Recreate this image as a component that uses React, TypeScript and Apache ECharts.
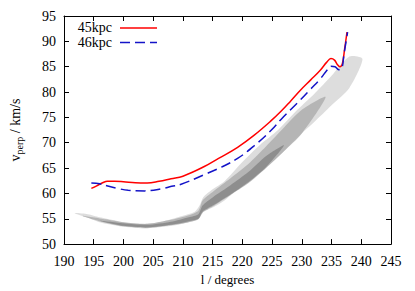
import React, { useEffect, useRef } from "react";
import * as echarts from "echarts";

const xTicks = [190, 245, 5];
const yTicks = [50, 95, 5];

const red45: [number, number][] = [
  [194.6, 61.0], [195.5, 61.5], [196.5, 62.1], [197.3, 62.4], [198.5, 62.4], [200, 62.3],
  [202, 62.1], [204, 62.05], [206, 62.4], [208, 62.9], [210, 63.4], [213.6, 65.3],
  [216, 66.9], [219.2, 69.1], [222, 71.5], [224.8, 74.3], [226.5, 76.2], [228.1, 78.2],
  [229.8, 80.4], [231.5, 82.4], [233.1, 84.3], [234.2, 85.9], [234.9, 86.6], [235.5, 86.3],
  [236.0, 85.4], [236.4, 85.0], [236.8, 85.5], [237.2, 88.5], [237.6, 91.8],
];

const blue46: [number, number][] = [
  [194.6, 62.05], [196, 61.9], [197.2, 61.5], [199, 61.0], [200.8, 60.6], [203.6, 60.5],
  [206.4, 60.9], [208.1, 61.4], [209.7, 61.8], [213.6, 63.7], [216.5, 65.2], [219.2, 66.9],
  [222, 69.4], [224.8, 72.4], [226.5, 74.6], [228.1, 76.5], [229.8, 78.5], [231.5, 80.6],
  [233.1, 82.6], [234.3, 84.4], [234.9, 85.1], [235.6, 85.0], [236.2, 84.4], [236.7, 84.6],
  [237.1, 87.5], [237.7, 91.8],
];

// particle cloud: outer (sparse) envelope
const cloudX = [191.8, 194, 196, 198, 200, 202, 204, 206, 208, 210, 212, 212.8, 213.4, 215, 217, 220, 223, 226, 229, 232, 235, 238, 240.2];
const cloudLow = [56.1, 55.2, 54.3, 53.8, 53.4, 53.2, 53.1, 53.3, 53.6, 54.0, 54.8, 55.2, 56.3, 57.2, 58.6, 61.6, 64.3, 67.2, 70.8, 74.0, 77.4, 80.8, 86.5];
const cloudHigh = [56.1, 55.9, 55.3, 54.8, 54.3, 54.0, 54.0, 54.3, 54.9, 55.6, 56.4, 57.6, 59.2, 60.8, 62.4, 66.2, 69.6, 72.5, 76.2, 79.5, 83.2, 87.0, 86.5];

// intermediate density
const midX = [193, 197, 200, 204, 208, 211, 212.6, 213.3, 215, 218, 221, 224, 227, 230, 234];
const midLow = [55.6, 54.2, 53.5, 53.2, 53.7, 54.3, 54.9, 56.2, 57.4, 59.7, 62.0, 65.0, 68.3, 71.8, 79.0];
const midHigh = [55.6, 54.9, 54.3, 54.0, 54.8, 55.7, 56.6, 58.6, 60.3, 63.0, 65.8, 69.3, 73.0, 76.5, 79.0];

// dense core
const coreX = [196, 200, 204, 208, 211, 212.6, 213.3, 215, 218, 221, 224, 227];
const coreLow = [54.6, 53.6, 53.3, 53.8, 54.5, 55.0, 56.4, 57.6, 59.8, 62.2, 65.2, 69.5];
const coreHigh = [54.6, 54.1, 53.8, 54.4, 55.3, 55.9, 57.6, 59.2, 61.6, 64.2, 67.4, 69.5];

const FONT = "'Liberation Serif', 'Times New Roman', serif";

function bandSeries(xs: number[], lo: number[], hi: number[], color: string, opacity: number) {
  return {
    type: "custom",
    silent: true,
    clip: true,
    data: [[xs[0], lo[0]]],
    renderItem: (params: any, api: any) => {
      if (params.dataIndex !== 0) return null;
      const pts: number[][] = [];
      for (let i = 0; i < xs.length; i++) pts.push(api.coord([xs[i], lo[i]]));
      for (let i = xs.length - 2; i >= 1; i--) pts.push(api.coord([xs[i], hi[i]]));
      return {
        type: "polygon",
        shape: { points: pts, smooth: 0.25 },
        style: { fill: color, opacity, stroke: null },
      };
    },
  };
}

export default function App() {
  const ref = useRef<HTMLDivElement>(null);
  useEffect(() => {
    if (!ref.current) return;
    const chart = echarts.init(ref.current, undefined, { renderer: "svg" });
    const axisCommon = {
      type: "value",
      splitLine: { show: false },
      axisLine: { show: true, lineStyle: { color: "#000", width: 1 } },
      axisTick: { show: true, inside: true, length: 5, lineStyle: { color: "#000" } },
    };
    chart.setOption({
      animation: false,
      backgroundColor: "#fff",
      grid: { left: 62, right: 24, top: 16, bottom: 42, containLabel: false },
      graphic: [
        { type: "text", right: 415 - 112, top: 20.5, style: { text: "45kpc", font: "14px " + FONT, fill: "#000" } },
        { type: "text", right: 415 - 112, top: 35, style: { text: "46kpc", font: "14px " + FONT, fill: "#000" } },
        { type: "line", shape: { x1: 120, y1: 28, x2: 157, y2: 28 }, style: { stroke: "#ff0000", lineWidth: 1.5 } },
        { type: "line", shape: { x1: 120, y1: 42.5, x2: 157, y2: 42.5 }, style: { stroke: "#1414c8", lineWidth: 1.5, lineDash: [10, 5] } },
      ],
      xAxis: [
        {
          ...axisCommon,
          min: xTicks[0],
          max: xTicks[1],
          interval: xTicks[2],
          position: "bottom",
          name: "l / degrees",
          nameLocation: "middle",
          nameGap: 28,
          nameTextStyle: { fontFamily: FONT, fontSize: 13, color: "#000" },
          axisLabel: { fontFamily: FONT, fontSize: 14, color: "#000", margin: 10 },
        },
        {
          ...axisCommon,
          min: xTicks[0],
          max: xTicks[1],
          interval: xTicks[2],
          position: "top",
          axisLabel: { show: false },
        },
      ],
      yAxis: [
        {
          ...axisCommon,
          min: yTicks[0],
          max: yTicks[1],
          interval: yTicks[2],
          position: "left",
          name: "{v|v}{s|perp}{v| / km/s}",
          nameLocation: "middle",
          nameGap: 40,
          nameTextStyle: {
            fontFamily: FONT,
            fontSize: 14,
            color: "#000",
            rich: {
              v: { fontFamily: FONT, fontSize: 14, lineHeight: 18, color: "#000" },
              s: { fontFamily: FONT, fontSize: 10, lineHeight: 10, verticalAlign: "bottom", color: "#000" },
            },
          },
          axisLabel: { fontFamily: FONT, fontSize: 14, color: "#000", margin: 8 },
        },
        {
          ...axisCommon,
          min: yTicks[0],
          max: yTicks[1],
          interval: yTicks[2],
          position: "right",
          axisLabel: { show: false },
        },
      ],
      series: [
        bandSeries(cloudX, cloudLow, cloudHigh, "#d4d4d4", 0.8),
        bandSeries(midX, midLow, midHigh, "#ababab", 0.8),
        bandSeries(coreX, coreLow, coreHigh, "#8a8a8a", 0.9),
        {
          name: "45kpc",
          type: "line",
          symbol: "none",
          smooth: 0.4,
          color: "#ff0000",
          lineStyle: { color: "#ff0000", width: 1.5 },
          data: red45,
        },
        {
          name: "46kpc",
          type: "line",
          symbol: "none",
          smooth: 0.4,
          color: "#1414c8",
          lineStyle: { color: "#1414c8", width: 1.5, type: [10, 5] },
          data: blue46,
        },
      ],
    });
    return () => chart.dispose();
  }, []);
  return (
    <div
      ref={ref}
      style={{ position: "fixed", left: 0, top: 0, width: 415, height: 291, background: "#fff" }}
    />
  );
}
